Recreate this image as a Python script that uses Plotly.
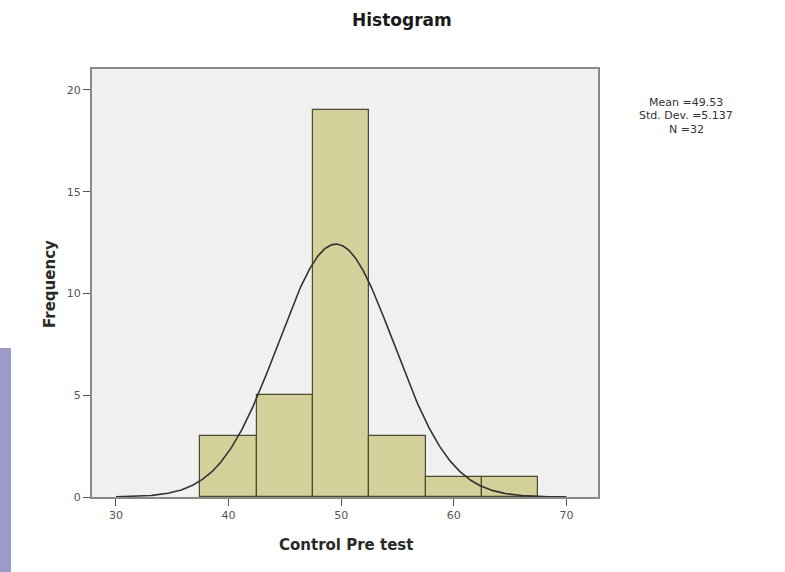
import numpy as np
import plotly.graph_objects as go

# Data
bin_edges = [37.5, 42.5, 47.5, 52.5, 57.5, 62.5, 67.5]
counts = [3, 5, 19, 3, 1, 1]
mean_val = 49.53
std_val = 5.137
n_val = 32
x_ticks = [30, 40, 50, 60, 70]
y_ticks = [0, 5, 10, 15, 20]
stats_lines = [f"Mean ={mean_val:.2f}", f"Std. Dev. ={std_val:.3f}", f"N ={n_val}"]

centers = [(a + b) / 2 for a, b in zip(bin_edges[:-1], bin_edges[1:])]
widths = [b - a for a, b in zip(bin_edges[:-1], bin_edges[1:])]
bw = widths[0]

# Fitted normal curve (as drawn by SPSS) from the stated mean / sd / N
xc = np.linspace(30, 70, 401)
yc = n_val * bw / (std_val * np.sqrt(2 * np.pi)) * np.exp(-0.5 * ((xc - mean_val) / std_val) ** 2)

FONT = "DejaVu Sans, Verdana, sans-serif"
W, H = 785, 572
L, R, T, B = 92, 598, 69, 497
PW, PH = R - L, B - T


def px(xp):
    return (xp - L) / PW


def py(yp):
    return (B - yp) / PH


fig = go.Figure()
fig.add_trace(go.Bar(
    x=centers, y=counts, width=widths,
    marker=dict(color="#d4d09a", line=dict(color="#4b4a32", width=1.2)),
    hoverinfo="x+y", showlegend=False,
))
fig.add_trace(go.Scatter(
    x=xc, y=yc, mode="lines",
    line=dict(color="#333333", width=1.6),
    hoverinfo="skip", showlegend=False,
))

annotations = [
    dict(text="<b>Histogram</b>", xref="paper", yref="paper",
         x=px(402), y=py(20), xanchor="center", yanchor="middle",
         showarrow=False, font=dict(size=17, color="#1a1a1a", family=FONT)),
    dict(text="<b>Control Pre test</b>", xref="paper", yref="paper",
         x=px(346), y=py(545), xanchor="center", yanchor="middle",
         showarrow=False, font=dict(size=15, color="#2a2a2a", family=FONT)),
    dict(text="<b>Frequency</b>", xref="paper", yref="paper",
         x=px(50), y=py(284), xanchor="center", yanchor="middle", textangle=-90,
         showarrow=False, font=dict(size=15, color="#2a2a2a", family=FONT)),
]
for i, line in enumerate(stats_lines):
    annotations.append(dict(
        text=line, xref="paper", yref="paper",
        x=px(686), y=py(102 + 13.5 * i), xanchor="center", yanchor="middle",
        showarrow=False, font=dict(size=11, color="#333333", family=FONT)))

fig.update_layout(
    width=W, height=H,
    margin=dict(l=L, r=W - R, t=T, b=H - B, pad=0),
    paper_bgcolor="white",
    plot_bgcolor="#f0f0f0",
    font=dict(family=FONT, color="#333333"),
    bargap=0,
    xaxis=dict(
        range=[27.87, 72.8], tickvals=x_ticks, ticks="outside", ticklen=7,
        tickcolor="#555555", tickwidth=1,
        showgrid=False, zeroline=False,
        showline=True, linecolor="#8a8a8a", linewidth=2, mirror=True,
        tickfont=dict(size=11, color="#555555", family=FONT),
    ),
    yaxis=dict(
        range=[0, 21.03], tickvals=y_ticks, ticks="outside", ticklen=7,
        tickcolor="#555555", tickwidth=1,
        showgrid=False, zeroline=False,
        showline=True, linecolor="#8a8a8a", linewidth=2, mirror=True,
        tickfont=dict(size=11, color="#555555", family=FONT),
    ),
    shapes=[
        dict(type="rect", xref="paper", yref="paper",
             x0=px(0), x1=px(11), y0=py(572), y1=py(348),
             fillcolor="#9b9bc8", line=dict(width=0), layer="above"),
    ],
    annotations=annotations,
)

fig.write_html("out.html",
               config={"displayModeBar": False},
               post_script="document.body.style.margin='0';document.body.style.padding='0';")
